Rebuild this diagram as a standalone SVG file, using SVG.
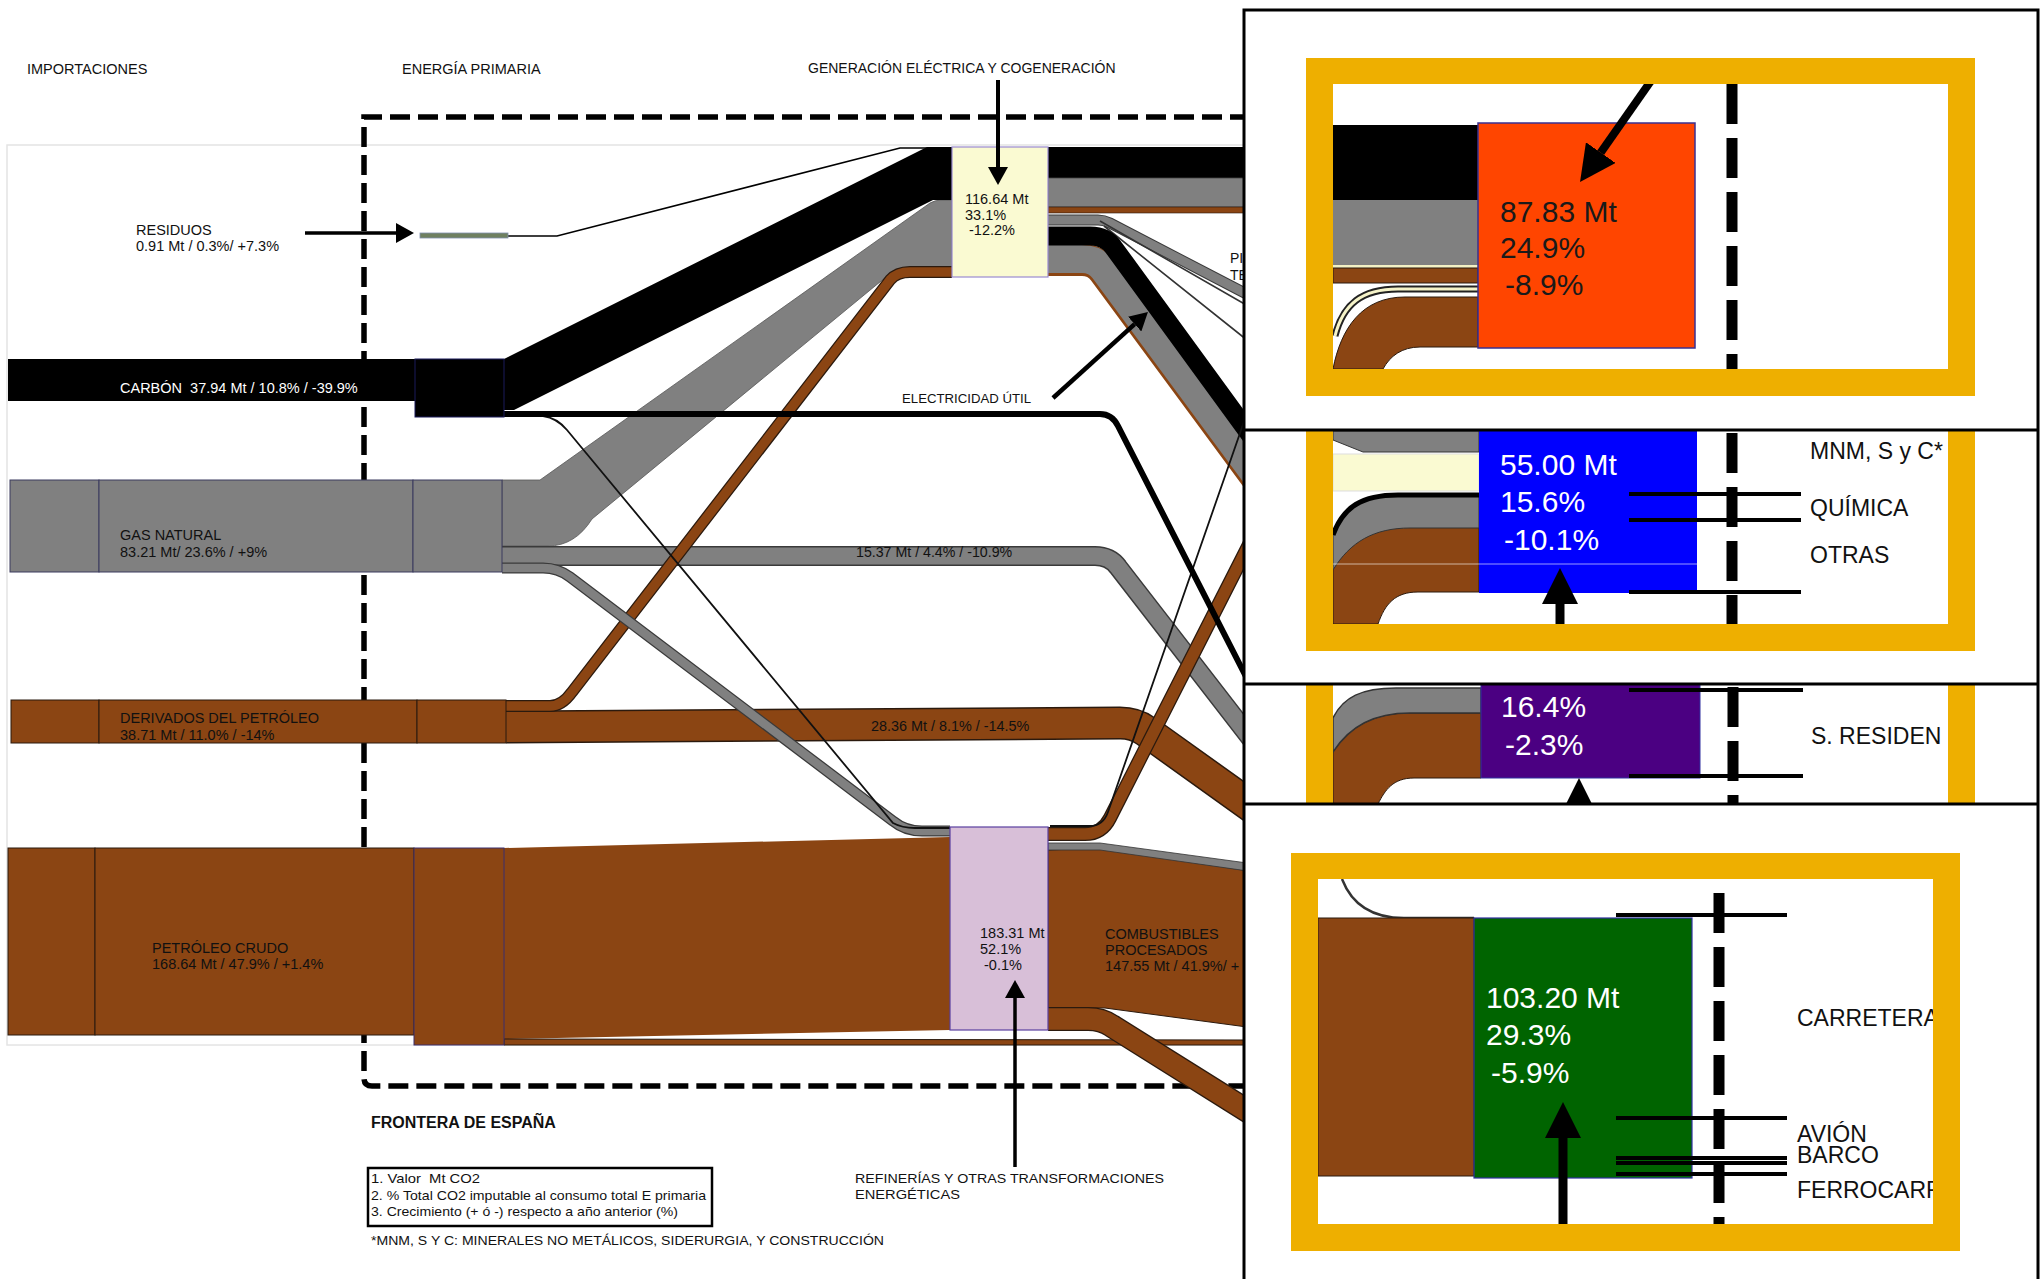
<svg xmlns="http://www.w3.org/2000/svg" width="2042" height="1279" viewBox="0 0 2042 1279">
<defs>
<style>
text{font-family:"Liberation Sans",Arial,Helvetica,sans-serif;fill:#111}
.s13{font-size:13.5px}
.s14{font-size:14.5px}
.big{font-size:30px}
.lab{font-size:23px}
.wt{fill:#fff}
.dk{fill:#1a1a1a}
.brf{fill:#8B4513;stroke:#2b1a0e;stroke-width:1}
.grf{fill:#808080;stroke:#3b3b5e;stroke-width:1}
.bo{fill:none;stroke:#2b1a0e}
.bi{fill:none;stroke:#8B4513}
.go{fill:none;stroke:#3a3a3a}
.gi{fill:none;stroke:#808080}
.gold{fill:#EEAF00}
.pdash{stroke:#000;stroke-width:11;stroke-dasharray:40 14;fill:none}
.pl{stroke:#000;stroke-width:4}
.arr{stroke:#000;fill:none}
</style>
<marker id="ah" markerUnits="userSpaceOnUse" markerWidth="18" markerHeight="20" refX="0" refY="10" orient="auto" viewBox="0 0 18 20"><path d="M0,0 L18,10 L0,20 Z" fill="#000"/></marker>
<marker id="ahb" markerUnits="userSpaceOnUse" markerWidth="36" markerHeight="36" refX="0" refY="18" orient="auto" viewBox="0 0 36 36"><path d="M0,0 L36,18 L0,36 Z" fill="#000"/></marker>
<clipPath id="c1"><rect x="1333" y="84" width="615" height="285"/></clipPath>
<clipPath id="c2"><rect x="1333" y="431" width="615" height="193"/></clipPath>
<clipPath id="c3"><rect x="1333" y="685" width="615" height="119"/></clipPath>
<clipPath id="c4"><rect x="1318" y="879" width="615" height="345"/></clipPath>
</defs>
<rect width="2042" height="1279" fill="#fff"/>

<g id="frontera">
<rect x="7" y="145" width="1240" height="900" fill="none" stroke="#e4e4e4" stroke-width="1.5"/>
<path d="M1250,117 H364 V1078 Q364,1086 372,1086 H1250" fill="none" stroke="#000" stroke-width="5.5" stroke-dasharray="20 8"/>
</g>

<g id="connectors">
<!-- crude to refinery -->
<path d="M504,848 L950,837 L950,1030 L504,1039 Z" fill="#8B4513"/>
<path d="M504,1039 L1250,1040 L1250,1045 L504,1045 Z" class="brf"/>
<!-- gas to generation -->
<path d="M502,480 L540,480 L930,203 Q935,200 942,200 L952,200 L952,267 L910,267 Q896,267 886,277 L592,519 Q575,546 548,546 L502,546 Z" fill="#808080" stroke="#555" stroke-width="0.8"/>
<!-- coal to generation -->
<path d="M504,359 L927,147 L952,147 L952,200 L933,200 L514,410 L504,410 Z" fill="#000"/>
<!-- residuos -->
<path d="M508,236 L557,236 L900,148 L952,148" fill="none" stroke="#000" stroke-width="1.6"/>
<!-- gas 15.37 -->
<path class="go" stroke-width="20" d="M502,556 L1095,556 Q1110,556 1118,567 L1262,753"/>
<path class="gi" stroke-width="17" d="M502,556 L1095,556 Q1110,556 1118,567 L1262,753"/>
<!-- derivados 28.36 -->
<path class="bo" stroke-width="33" d="M506,727 L1120,723 Q1135,723 1146,731 L1262,814"/>
<path class="bi" stroke-width="30" d="M506,727 L1120,723 Q1135,723 1146,731 L1262,814"/>
<!-- derivados to generation -->
<path class="bo" stroke-width="12" d="M506,706 L550,706 Q562,706 572,692 L890,280 Q897,272 910,272 L952,272"/>
<path class="bi" stroke-width="9.5" d="M506,706 L550,706 Q562,706 572,692 L890,280 Q897,272 910,272 L952,272"/>
<!-- gas to refinery -->
<path class="go" stroke-width="11" d="M502,568 L543,568 Q558,568 570,577 L893,821 Q905,831 922,831 L950,831"/>
<path class="gi" stroke-width="8.5" d="M502,568 L543,568 Q558,568 570,577 L893,821 Q905,831 922,831 L950,831"/>
<!-- coal to refinery -->
<path d="M504,416 L543,416 Q557,418 567,430 L893,823 Q902,828 915,828 L950,828" fill="none" stroke="#111" stroke-width="1.8"/>
<!-- generation outflows -->
<rect x="1048" y="147" width="210" height="31" fill="#000"/>
<rect x="1048" y="178" width="210" height="29" fill="#808080" stroke="#444" stroke-width="0.8"/>
<rect x="1048" y="207" width="210" height="6" fill="#8B4513" stroke="#2b1a0e" stroke-width="0.6"/>
<path class="go" stroke-width="11" d="M1048,220 L1098,220 Q1104,220 1110,223 L1262,302"/>
<path class="gi" stroke-width="9" d="M1048,220 L1098,220 Q1104,220 1110,223 L1262,302"/>
<path d="M1100,221 L1262,314 M1104,226 L1262,352" fill="none" stroke="#333" stroke-width="1.6"/>
<path class="bi" stroke-width="32" d="M1048,260 L1082,260 Q1096,260 1104,271 L1262,485"/>
<path class="gi" stroke-width="28" d="M1048,259 L1082,259 Q1096,259 1104,270 L1262,484"/>
<path stroke="#000" stroke-width="19" fill="none" d="M1048,236 L1090,236 Q1106,236 1114,248 L1262,451"/>
<!-- refinery outflows -->
<path d="M1048,850 L1100,848 L1262,873 L1262,1029 L1105,1008 L1048,1008 Z" class="brf"/>
<path d="M1048,843 L1100,843 L1262,865 L1262,873 L1100,850 L1048,850 Z" fill="#808080" stroke="#333" stroke-width="0.8"/>
<path class="bo" stroke-width="24" d="M1048,1019 L1088,1019 Q1102,1019 1112,1026 L1262,1120"/>
<path class="bi" stroke-width="21.5" d="M1048,1019 L1088,1019 Q1102,1019 1112,1026 L1262,1120"/>
<path class="bo" stroke-width="14" d="M1048,834 L1085,834 Q1102,834 1110,818 L1262,519"/>
<path class="bi" stroke-width="11.5" d="M1048,834 L1085,834 Q1102,834 1110,818 L1262,519"/>
<path d="M1050,826 L1090,826 Q1103,826 1108,812 L1262,370" fill="none" stroke="#111" stroke-width="1.8"/>
<!-- coal to useful electricity -->
<path d="M504,414 L1100,414 Q1112,414 1118,426 L1262,708" fill="none" stroke="#000" stroke-width="6"/>
</g>

<g id="node-residuos">
<rect x="420" y="233" width="88" height="5" fill="#6f8060" stroke="#8090b0" stroke-width="0.8"/>
<text x="136" y="235" class="s14">RESIDUOS</text>
<text x="136" y="251" class="s14">0.91 Mt / 0.3%/ +7.3%</text>
</g>
<g id="node-carbon">
<rect x="8" y="359" width="407" height="42" fill="#000"/>
<rect x="415" y="359" width="89" height="58" fill="#000" stroke="#1a1a5a" stroke-width="1"/>
<text x="120" y="393" class="s14 wt">CARBÓN&#160; 37.94 Mt / 10.8% / -39.9%</text>
</g>
<g id="node-gas">
<rect x="10" y="480" width="89" height="92" class="grf"/>
<rect x="99" y="480" width="314" height="92" class="grf"/>
<rect x="413" y="480" width="89" height="92" class="grf"/>
<text x="120" y="540" class="s14">GAS NATURAL</text>
<text x="120" y="557" class="s14">83.21 Mt/ 23.6% / +9%</text>
</g>
<g id="node-derivados">
<rect x="11" y="700" width="88" height="43" class="brf"/>
<rect x="99" y="700" width="318" height="43" class="brf"/>
<rect x="417" y="700" width="89" height="43" class="brf"/>
<text x="120" y="723" class="s14">DERIVADOS DEL PETRÓLEO</text>
<text x="120" y="740" class="s14">38.71 Mt / 11.0% / -14%</text>
</g>
<g id="node-crudo">
<rect x="8" y="848" width="87" height="187" class="brf"/>
<rect x="95" y="848" width="319" height="187" class="brf"/>
<rect x="414" y="848" width="90" height="197" fill="#8B4513" stroke="#3a2e6e" stroke-width="1"/>
<text x="152" y="953" class="s14">PETRÓLEO CRUDO</text>
<text x="152" y="969" class="s14">168.64 Mt / 47.9% / +1.4%</text>
</g>
<g id="node-generacion">
<rect x="952" y="147" width="96" height="130" fill="#FAFAD2" stroke="#9a8ad0" stroke-width="1.2"/>
<text x="965" y="204" class="s14">116.64 Mt</text>
<text x="965" y="220" class="s14">33.1%</text>
<text x="969" y="235" class="s14">-12.2%</text>
</g>
<g id="node-refineria">
<rect x="950" y="827" width="98" height="203" fill="#D8BFD8" stroke="#5a40a0" stroke-width="1.2"/>
<text x="980" y="938" class="s14">183.31 Mt</text>
<text x="980" y="954" class="s14">52.1%</text>
<text x="984" y="970" class="s14">-0.1%</text>
</g>

<g id="labels">
<text x="27" y="74" class="s14">IMPORTACIONES</text>
<text x="402" y="74" class="s14">ENERGÍA PRIMARIA</text>
<text x="808" y="73" font-size="14">GENERACIÓN ELÉCTRICA Y COGENERACIÓN</text>
<text x="902" y="403" font-size="13.2">ELECTRICIDAD ÚTIL</text>
<text x="856" y="557" font-size="14.2">15.37 Mt / 4.4% / -10.9%</text>
<text x="871" y="731" font-size="14.4">28.36 Mt / 8.1% / -14.5%</text>
<text x="1105" y="939" class="s14">COMBUSTIBLES</text>
<text x="1105" y="955" class="s14">PROCESADOS</text>
<text x="1105" y="971" class="s14">147.55 Mt / 41.9%/ +</text>
<text x="1230" y="263" font-size="14">PI</text>
<text x="1230" y="280" font-size="14">TE</text>
<text x="371" y="1128" font-size="16" font-weight="bold">FRONTERA DE ESPAÑA</text>
<rect x="368" y="1168" width="344" height="58" fill="none" stroke="#000" stroke-width="2.5"/>
<text x="371" y="1183" class="s13" textLength="109" lengthAdjust="spacingAndGlyphs">1. Valor&#160; Mt CO2</text>
<text x="371" y="1200" class="s13" textLength="335" lengthAdjust="spacingAndGlyphs">2. % Total CO2 imputable al consumo total E primaria</text>
<text x="371" y="1216" class="s13" textLength="307" lengthAdjust="spacingAndGlyphs">3. Crecimiento (+ ó -) respecto a año anterior (%)</text>
<text x="371" y="1245" class="s13" textLength="513" lengthAdjust="spacingAndGlyphs">*MNM, S Y C: MINERALES NO METÁLICOS, SIDERURGIA, Y CONSTRUCCIÓN</text>
<text x="855" y="1183" class="s13" textLength="309" lengthAdjust="spacingAndGlyphs">REFINERÍAS Y OTRAS TRANSFORMACIONES</text>
<text x="855" y="1199" class="s13" textLength="105" lengthAdjust="spacingAndGlyphs">ENERGÉTICAS</text>
</g>

<g id="annotation-arrows">
<line x1="305" y1="233" x2="396" y2="233" class="arr" stroke-width="3.5" marker-end="url(#ah)"/>
<line x1="998" y1="80" x2="998" y2="167" class="arr" stroke-width="4" marker-end="url(#ah)"/>
<line x1="1015" y1="1167" x2="1015" y2="998" class="arr" stroke-width="3.5" marker-end="url(#ah)"/>
<line x1="1053" y1="398" x2="1134.6" y2="324.1" class="arr" stroke-width="4.5" marker-end="url(#ah)"/>
</g>

<g id="zoom-panel">
<rect x="1244" y="10" width="794" height="1280" fill="#fff" stroke="#000" stroke-width="3"/>

<g id="node-industria-energetica">
<g clip-path="url(#c1)">
<rect x="1333" y="125" width="145" height="75" fill="#000"/>
<rect x="1333" y="200" width="145" height="65" fill="#808080"/>
<rect x="1333" y="265" width="145" height="3" fill="#f3f1c4"/>
<rect x="1333" y="268" width="145" height="15" fill="#8B4513" stroke="#2b1a0e" stroke-width="1"/>
<path d="M1335,336 C1343,304 1362,289 1398,289 L1478,289" fill="none" stroke="#222" stroke-width="7"/>
<path d="M1335,336 C1343,304 1362,289 1398,289 L1478,289" fill="none" stroke="#f5f3c8" stroke-width="3"/>
<path d="M1333,369 C1341,328 1362,297 1405,297 L1478,297 L1478,347 L1420,347 C1402,347 1390,356 1383,369 Z" class="brf"/>
<rect x="1478" y="123" width="217" height="225" fill="#FF4500" stroke="#3a3090" stroke-width="1.5"/>
<text x="1500" y="222" class="big dk">87.83 Mt</text>
<text x="1500" y="258" class="big dk">24.9%</text>
<text x="1505" y="295" class="big dk">-8.9%</text>
<line x1="1660" y1="68" x2="1600.7" y2="152.6" class="arr" stroke-width="8" marker-end="url(#ahb)"/>
<line x1="1732" y1="84" x2="1732" y2="369" class="pdash"/>
</g>
<path class="gold" fill-rule="evenodd" d="M1306,58 H1975 V396 H1306 Z M1333,84 V369 H1948 V84 Z"/>
</g>

<g id="node-industria">
<g clip-path="url(#c2)">
<path d="M1333,431 L1479,431 L1479,452 L1363,452 L1333,440 Z" fill="#808080" stroke="#333" stroke-width="1"/>
<rect x="1333" y="454" width="146" height="37" fill="#FAFAD2" stroke="#ddd" stroke-width="1"/>
<path d="M1333,535 C1343,507 1362,495 1398,495 L1479,495 L1479,592 L1418,592 C1395,592 1385,604 1378,624 L1333,624 Z" class="brf"/>
<path d="M1333,535 C1343,507 1362,495 1398,495 L1479,495 L1479,528 L1410,528 C1374,528 1350,542 1333,570 Z" fill="#808080" stroke="#333" stroke-width="1"/>
<path d="M1333,535 C1343,507 1362,495 1398,495 L1479,495" fill="none" stroke="#000" stroke-width="5"/>
<rect x="1479" y="431" width="218" height="162" fill="#0000FF"/>
<line x1="1333" y1="564" x2="1735" y2="564" stroke="#fff" stroke-opacity="0.6" stroke-width="1"/>
<text x="1500" y="475" class="big wt">55.00 Mt</text>
<text x="1500" y="512" class="big wt">15.6%</text>
<text x="1504" y="550" class="big wt">-10.1%</text>
<line x1="1560" y1="640" x2="1560" y2="604" class="arr" stroke-width="9" marker-end="url(#ahb)"/>
<line x1="1732" y1="433" x2="1732" y2="624" class="pdash"/>
<path d="M1629,494 H1801 M1629,520 H1801 M1629,592 H1801" class="pl"/>
<text x="1810" y="459" class="lab">MNM, S y C*</text>
<text x="1810" y="516" class="lab">QUÍMICA</text>
<text x="1810" y="563" class="lab">OTRAS</text>
</g>
<path class="gold" d="M1306,430 H1333 V624 H1948 V430 H1975 V651 H1306 Z"/>
</g>

<g id="node-residencial">
<g clip-path="url(#c3)">
<path d="M1333,752 C1350,726 1374,713 1410,713 L1481,713 L1481,778 L1414,778 C1393,778 1385,790 1378,804 L1333,804 Z" class="brf"/>
<path d="M1333,718 C1343,697 1362,688 1396,688 L1481,688 L1481,713 L1410,713 C1374,713 1350,726 1333,752 Z" fill="#808080" stroke="#333" stroke-width="1.5"/>
<rect x="1481" y="684" width="219" height="94" fill="#4B0082" stroke="#3030a0" stroke-width="1"/>
<text x="1501" y="717" class="big wt">16.4%</text>
<text x="1505" y="755" class="big wt">-2.3%</text>
<line x1="1579" y1="840" x2="1579" y2="814" class="arr" stroke-width="9" marker-end="url(#ahb)"/>
<line x1="1733" y1="687" x2="1733" y2="804" class="pdash"/>
<path d="M1629,690 H1803 M1629,776 H1803" class="pl"/>
<text x="1811" y="744" class="lab">S. RESIDEN</text>
</g>
<path class="gold" d="M1306,684 H1333 V804 H1306 Z M1948,684 H1975 V804 H1948 Z"/>
</g>

<g id="node-transporte">
<g clip-path="url(#c4)">
<path d="M1342,879 C1352,905 1372,918 1404,918 L1474,918" fill="none" stroke="#333" stroke-width="2.5"/>
<rect x="1318" y="918" width="156" height="258" class="brf"/>
<rect x="1474" y="918" width="218" height="260" fill="#006400" stroke="#3030a0" stroke-width="1.2"/>
<text x="1486" y="1008" class="big wt">103.20 Mt</text>
<text x="1486" y="1045" class="big wt">29.3%</text>
<text x="1491" y="1083" class="big wt">-5.9%</text>
<line x1="1563" y1="1240" x2="1563" y2="1138" class="arr" stroke-width="9" marker-end="url(#ahb)"/>
<line x1="1719" y1="893" x2="1719" y2="1224" class="pdash"/>
<path d="M1616,915 H1787 M1616,1118 H1787 M1616,1158 H1787 M1616,1163 H1787 M1616,1174 H1787" class="pl" stroke-width="3.5"/>
<text x="1797" y="1026" class="lab">CARRETERA</text>
<text x="1797" y="1142" class="lab">AVIÓN</text>
<text x="1797" y="1163" class="lab">BARCO</text>
<text x="1797" y="1198" class="lab">FERROCARR</text>
</g>
<path class="gold" fill-rule="evenodd" d="M1291,853 H1960 V1251 H1291 Z M1318,879 V1224 H1933 V879 Z"/>
</g>

<path d="M1244,430 H2038 M1244,684 H2038 M1244,804 H2038" stroke="#000" stroke-width="3"/>
</g>
</svg>
